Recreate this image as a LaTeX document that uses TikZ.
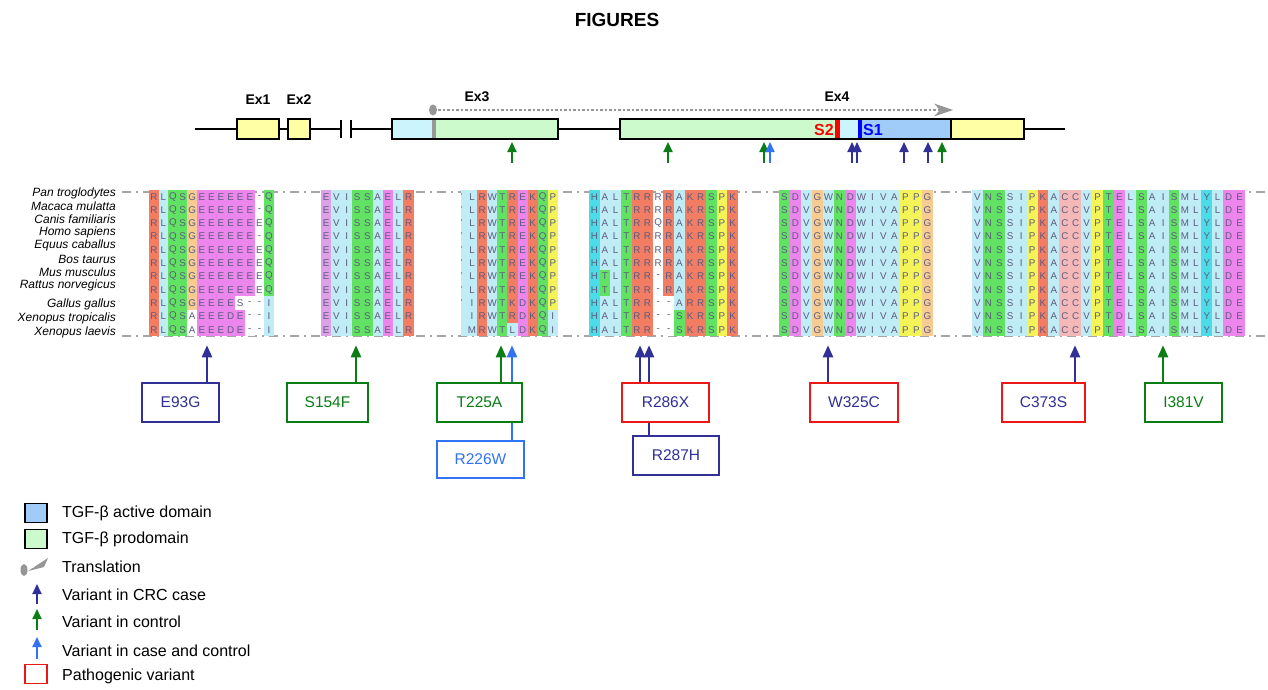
\documentclass[tikz,border=0pt]{standalone}
\usepackage{fontspec}
\setmainfont{Liberation Sans}
\usetikzlibrary{arrows.meta}

\definecolor{cR}{RGB}{243,125,98}
\definecolor{cB}{RGB}{192,236,246}
\definecolor{cG}{RGB}{98,226,98}
\definecolor{cM}{RGB}{236,134,236}
\definecolor{cL}{RGB}{222,160,232}
\definecolor{cO}{RGB}{246,204,146}
\definecolor{cY}{RGB}{244,244,88}
\definecolor{cC}{RGB}{76,220,232}
\definecolor{cP}{RGB}{245,184,184}
\definecolor{aatext}{RGB}{92,92,128}
\definecolor{exyel}{RGB}{255,255,165}
\definecolor{exgreen}{RGB}{204,250,204}
\definecolor{excyan}{RGB}{204,244,252}
\definecolor{exblue}{RGB}{160,204,250}
\definecolor{cnavy}{RGB}{48,48,150}
\definecolor{cgreen}{RGB}{10,125,20}
\definecolor{cltb}{RGB}{50,115,245}
\definecolor{cred}{RGB}{236,24,24}
\definecolor{tgray}{RGB}{150,150,150}

\begin{document}
\begin{tikzpicture}[x=1pt,y=-1pt,
  exon/.style={draw,line width=1.3pt,inner sep=0,outer sep=0,minimum height=20pt,anchor=west},
  exlabel/.style={font=\bfseries\fontsize{14}{16}\selectfont},
  aacell/.style={inner sep=0,text=aatext,font=\fontsize{9.8}{10}\selectfont},
  species/.style={anchor=east,inner sep=0,font=\itshape\fontsize{12}{13}\selectfont},
  varbox/.style={draw,line width=1.5pt,fill=white,minimum height=39pt,inner sep=0,font=\fontsize{15.5}{17}\selectfont},
  vararrow/.style={line width=2.2pt,-{Triangle[width=10pt,length=12pt]}},
  snv/.style={line width=1.8pt,-{Triangle[width=9pt,length=10pt]}},
  legtext/.style={anchor=west,inner sep=0,font=\fontsize{16}{18}\selectfont},
  legbox/.style={draw,line width=1.8pt,minimum width=22pt,minimum height=19pt,inner sep=0}]
\useasboundingbox (0,0) rectangle (1268,690);

\node[font=\bfseries\fontsize{19}{21}\selectfont] (title) at (617,20) {FIGURES};

% gene
\fill[excyan] (392,119) rectangle (432,139);
\fill[exgreen] (432,119) rectangle (558,139);
\fill[gray!80] (432,119) rectangle (436,139);
\fill[exgreen] (620,119) rectangle (836,139);
\fill[excyan] (836,119) rectangle (858,139);
\fill[exblue] (858,119) rectangle (951,139);
\fill[exyel] (951,119) rectangle (1024,139);
\fill[red] (835,119) rectangle (840,139);
\fill[blue] (857.5,119) rectangle (861.5,139);
\node[exon,fill=exyel,minimum width=42pt] (ex1) at (237,129) {};
\node[exon,fill=exyel,minimum width=22pt] (ex2) at (288,129) {};
\node[exon,minimum width=166pt] (ex3) at (392,129) {};
\node[exon,minimum width=404pt] (ex4) at (620,129) {};
\draw[line width=1.3pt] (951,119) -- (951,139);
\coordinate (g0) at (195,129);
\coordinate (g1) at (1065,129);
\coordinate (brk1) at (341,129);
\coordinate (brk2) at (351,129);
\draw[line width=1.3pt] (g0) -- (ex1.west) (ex1.east) -- (ex2.west) (ex2.east) -- (brk1)
  (brk2) -- (ex3.west) (ex3.east) -- (ex4.west) (ex4.east) -- (g1);
\draw[line width=1.6pt] ([yshift=-9pt]brk1) -- ([yshift=9pt]brk1) ([yshift=-9pt]brk2) -- ([yshift=9pt]brk2);
\node[exlabel] (lex1) at (258,100) {Ex1};
\node[exlabel] (lex2) at (299,100) {Ex2};
\node[exlabel] (lex3) at (477,97) {Ex3};
\node[exlabel] (lex4) at (837,97) {Ex4};
\node[font=\bfseries\fontsize{16}{18}\selectfont,text=red,anchor=east,inner sep=0] (s2) at (834,130) {S2};
\node[font=\bfseries\fontsize{16}{18}\selectfont,text=blue,anchor=west,inner sep=0] (s1) at (863,130) {S1};

% translation
\fill[tgray] (433,110) ellipse (4 and 5.5);
\draw[tgray,line width=2.6pt,dash pattern=on 2.5pt off 2pt] (438,110) -- (940,110);
\fill[tgray] (953,110) -- (934,103.5) -- (940,110) -- (934,116.5) -- cycle;

% snv positions
\foreach \x in {512,668,764,942} \draw[snv,cgreen] (\x,163) -- (\x,142);
\draw[snv,cltb] (770,163) -- (770,142);
\foreach \x in {852,857,904,928} \draw[snv,cnavy] (\x,163) -- (\x,142);

% alignment
\draw[tgray!85,line width=1.5pt,dash pattern=on 9pt off 5pt on 2pt off 5pt] (122,192) -- (1268,192);
\draw[tgray!85,line width=1.5pt,dash pattern=on 9pt off 5pt on 2pt off 5pt] (122,336) -- (1268,336);

\foreach \sp/\yy [count=\i] in {Pan troglodytes/193,Macaca mulatta/206,Canis familiaris/219,
  Homo sapiens/232,Equus caballus/245,Bos taurus/259,Mus musculus/272,Rattus norvegicus/285,
  Gallus gallus/304,Xenopus tropicalis/318,Xenopus laevis/332}
  \node[species] (sp\i) at (116,\yy) {\sp};

% block 1
\foreach \c/\cl in {1/cR,2/cB,3/cG,4/cG,5/cO,6/cM,7/cM,8/cM,9/cM,10/cM,11/cM,13/cG}
  \fill[\cl] (139.4+9.6*\c,190) rectangle ++(9.6,146.3);
\fill[white] (187.4,309.7) rectangle ++(9.6,26.6);
\fill[white] (235.4,296.4) rectangle ++(19.2,13.3);
\fill[white] (245,309.7) rectangle ++(9.6,26.6);
\fill[cB] (264.2,296.4) rectangle ++(9.6,39.9);
\foreach \sq [count=\r] in {{R,L,Q,S,G,E,E,E,E,E,E,-,Q},{R,L,Q,S,G,E,E,E,E,E,E,-,Q},
  {R,L,Q,S,G,E,E,E,E,E,E,E,Q},{R,L,Q,S,G,E,E,E,E,E,E,-,Q},{R,L,Q,S,G,E,E,E,E,E,E,E,Q},
  {R,L,Q,S,G,E,E,E,E,E,E,E,Q},{R,L,Q,S,G,E,E,E,E,E,E,E,Q},{R,L,Q,S,G,E,E,E,E,E,E,E,Q},
  {R,L,Q,S,G,E,E,E,E,S,-,-,I},{R,L,Q,S,A,E,E,E,D,E,-,-,I},{R,L,Q,S,A,E,E,E,D,E,-,-,I}}{
  \foreach \ch [count=\c] in \sq
    \node[aacell] (a\r-\c) at (144.2+9.6*\c,183.35+13.3*\r) {\ch};
}

% block 2
\foreach \c/\cl in {1/cL,2/cB,3/cB,4/cG,5/cG,6/cB,7/cM,8/cB,9/cR}
  \fill[\cl] (310.7+10.3*\c,190) rectangle ++(10.3,146.3);
\foreach \r in {1,...,11}{
  \foreach \ch [count=\c] in {E,V,I,S,S,A,E,L,R}
    \node[aacell] (b\r-\c) at (315.85+10.3*\c,183.35+13.3*\r) {\ch};
}

% block 3
\fill[cB] (461,190) rectangle (467,336.3);
\foreach \c/\cl in {1/cB,2/cR,3/cB,4/cG,5/cR,6/cM,7/cR,8/cG,9/cY}
  \fill[\cl] (456.9+10.1*\c,190) rectangle ++(10.1,146.3);
\fill[cB] (507.4,323) rectangle ++(10.1,13.3);
\fill[cB] (547.8,309.7) rectangle ++(10.1,26.6);
\begin{scope}
\clip (461,190) rectangle (467,336.3);
\foreach \r in {1,...,9} \node[aacell] (c\r-0) at (459,183.35+13.3*\r) {V};
\end{scope}
\foreach \sq [count=\r] in {{L,R,W,T,R,E,K,Q,P},{L,R,W,T,R,E,K,Q,P},{L,R,W,T,R,E,K,Q,P},
  {L,R,W,T,R,E,K,Q,P},{L,R,W,T,R,E,K,Q,P},{L,R,W,T,R,E,K,Q,P},{L,R,W,T,R,E,K,Q,P},
  {L,R,W,T,R,E,K,Q,P},{I,R,W,T,K,D,K,Q,P},{I,R,W,T,R,D,K,Q,I},{M,R,W,T,L,D,K,Q,I}}{
  \foreach \ch [count=\c] in \sq
    \node[aacell] (c\r-\c) at (461.95+10.1*\c,183.35+13.3*\r) {\ch};
}

% block 4
\foreach \c/\cl in {1/cC,2/cB,3/cB,4/cG,5/cR,6/cR,8/cR,9/cB,10/cR,11/cR,12/cG,13/cY,14/cR}
  \fill[\cl] (578.36+10.64*\c,190) rectangle ++(10.64,146.3);
\fill[cG] (599.64,269.8) rectangle ++(10.64,26.6);
\fill[white] (663.48,296.4) rectangle ++(10.64,39.9);
\fill[cG] (674.12,309.7) rectangle ++(10.64,26.6);
\foreach \sq [count=\r] in {{H,A,L,T,R,R,R,R,A,K,R,S,P,K},{H,A,L,T,R,R,R,R,A,K,R,S,P,K},
  {H,A,L,T,R,R,Q,R,A,K,R,S,P,K},{H,A,L,T,R,R,R,R,A,K,R,S,P,K},{H,A,L,T,R,R,R,R,A,K,R,S,P,K},
  {H,A,L,T,R,R,R,R,A,K,R,S,P,K},{H,T,L,T,R,R,-,R,A,K,R,S,P,K},{H,T,L,T,R,R,-,R,A,K,R,S,P,K},
  {H,A,L,T,R,R,-,-,A,R,R,S,P,K},{H,A,L,T,R,R,-,-,S,K,R,S,P,K},{H,A,L,T,R,R,-,-,S,K,R,S,P,K}}{
  \foreach \ch [count=\c] in \sq
    \node[aacell] (d\r-\c) at (583.68+10.64*\c,183.35+13.3*\r) {\ch};
}

% block 5
\foreach \c/\cl in {1/cG,2/cM,3/cB,4/cO,5/cB,6/cG,7/cM,8/cB,9/cB,10/cB,11/cB,12/cY,13/cY,14/cO}
  \fill[\cl] (768+11*\c,190) rectangle ++(11,146.3);
\foreach \r in {1,...,11}{
  \foreach \ch [count=\c] in {S,D,V,G,W,N,D,W,I,V,A,P,P,G}
    \node[aacell] (e\r-\c) at (773.5+11*\c,183.35+13.3*\r) {\ch};
}

% block 6
\foreach \c/\cl in {1/cB,2/cG,3/cG,4/cB,5/cB,6/cY,7/cR,8/cB,9/cP,10/cP,11/cB,12/cY,13/cG,
  14/cM,15/cB,16/cG,17/cB,18/cB,19/cG,20/cB,21/cB,22/cC,23/cB,24/cM,25/cM}
  \fill[\cl] (961.08+10.92*\c,190) rectangle ++(10.92,146.3);
\foreach \r in {1,...,9,11}{
  \foreach \ch [count=\c] in {V,N,S,S,I,P,K,A,C,C,V,P,T,E,L,S,A,I,S,M,L,Y,L,D,E}
    \node[aacell] (f\r-\c) at (966.54+10.92*\c,183.35+13.3*\r) {\ch};
}
\foreach \ch [count=\c] in {V,N,S,S,I,P,K,A,C,C,V,P,T,D,L,S,A,I,S,M,L,Y,L,D,E}
  \node[aacell] (f10-\c) at (966.54+10.92*\c,316.35) {\ch};

% variants
\node[varbox,draw=cnavy,text=cnavy,minimum width=77pt] (e93g) at (180.5,402.5) {E93G};
\node[varbox,draw=cgreen,text=cgreen,minimum width=81pt] (s154f) at (327.5,402.5) {S154F};
\node[varbox,draw=cgreen,text=cgreen,minimum width=85pt] (t225a) at (479.5,402.5) {T225A};
\node[varbox,draw=cltb,text=cltb,minimum width=87pt,minimum height=37pt] (r226w) at (480.5,459.5) {R226W};
\node[varbox,draw=cred,text=cnavy,minimum width=87pt] (r286x) at (665.5,402.5) {R286X};
\node[varbox,draw=cnavy,text=cnavy,minimum width=86pt] (r287h) at (676,455.5) {R287H};
\node[varbox,draw=cred,text=cnavy,minimum width=88pt] (w325c) at (854,402.5) {W325C};
\node[varbox,draw=cred,text=cnavy,minimum width=83pt] (c373s) at (1043.5,402.5) {C373S};
\node[varbox,draw=cgreen,text=cgreen,minimum width=77pt] (i381v) at (1183.5,402.5) {I381V};

\draw[vararrow,cnavy] ([xshift=26.5pt]e93g.north) -- ++(0,-37);
\draw[vararrow,cgreen] ([xshift=28.5pt]s154f.north) -- ++(0,-37);
\draw[vararrow,cgreen] ([xshift=21.5pt]t225a.north) -- ++(0,-37);
\draw[cltb,line width=2.2pt] ([xshift=31.5pt]r226w.north) -- ([xshift=32.5pt]t225a.south);
\draw[vararrow,cltb] ([xshift=32.5pt]t225a.north) -- ++(0,-37);
\draw[vararrow,cnavy] ([xshift=-25.5pt]r286x.north) -- ++(0,-37);
\draw[cnavy,line width=2.2pt] ([xshift=-27pt]r287h.north) -- ([xshift=-16.5pt]r286x.south);
\draw[vararrow,cnavy] ([xshift=-16.5pt]r286x.north) -- ++(0,-37);
\draw[vararrow,cnavy] ([xshift=-26pt]w325c.north) -- ++(0,-37);
\draw[vararrow,cnavy] ([xshift=31.5pt]c373s.north) -- ++(0,-37);
\draw[vararrow,cgreen] ([xshift=-20.5pt]i381v.north) -- ++(0,-37);

% legend
\node[legbox,fill=exblue] (lgact) at (36,513) {};
\node[legbox,fill=exgreen] (lgpro) at (36,539) {};
\fill[tgray] (24,570) ellipse (3.5 and 6);
\fill[tgray] (28,571) -- (48,558) -- (44,567) -- cycle;
\fill[white] (33,567) circle (1);
\draw[snv,cnavy] (37,604) -- (37,584);
\draw[snv,cgreen] (37,630) -- (37,609);
\draw[snv,cltb] (37,659) -- (37,637);
\node[legbox,draw=cred,fill=white,line width=1.5pt] (lgpat) at (36,674) {};
\node[legtext] (t1) at (62,513) {TGF-β active domain};
\node[legtext] (t2) at (62,539) {TGF-β prodomain};
\node[legtext] (t3) at (62,567) {Translation};
\node[legtext] (t4) at (62,595) {Variant in CRC case};
\node[legtext] (t5) at (62,622) {Variant in control};
\node[legtext] (t6) at (62,651) {Variant in case and control};
\node[legtext] (t7) at (62,676) {Pathogenic variant};
\end{tikzpicture}
\end{document}
